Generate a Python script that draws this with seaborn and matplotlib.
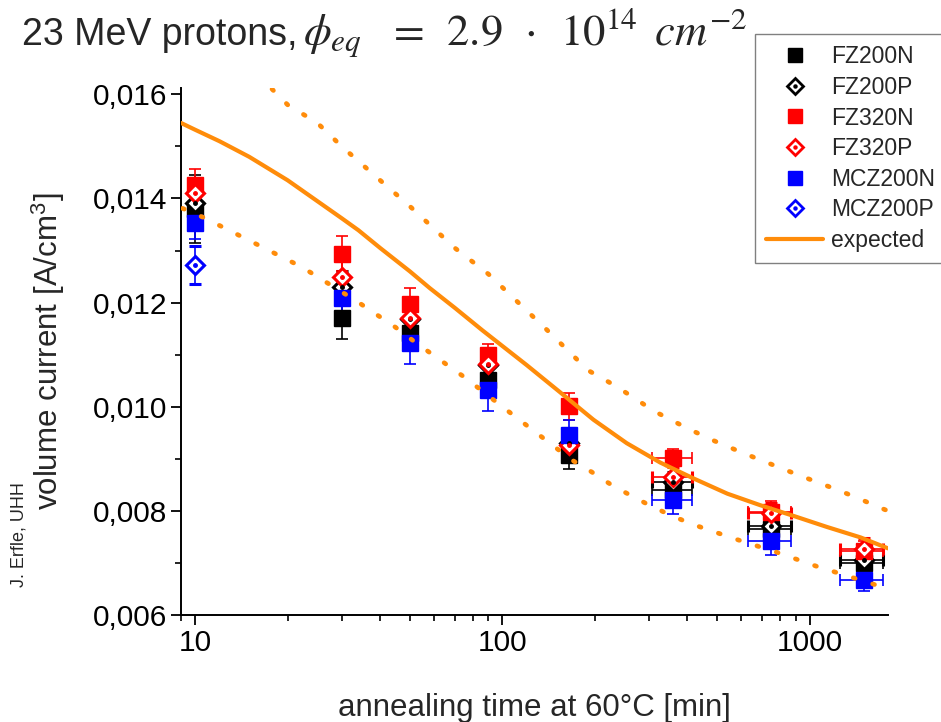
import matplotlib
matplotlib.use("Agg")
import matplotlib.pyplot as plt
import seaborn as sns
from matplotlib.lines import Line2D
from matplotlib.ticker import FuncFormatter, MultipleLocator, LogLocator, NullFormatter

# annealing times [min] and their horizontal uncertainty
times = [10, 30, 50, 90, 165, 360, 750, 1500]
time_err = [0, 0, 0, 0, 0, 54, 120, 240]

# volume current [A/cm^3]
fz200n = [0.01380, 0.01171, 0.01141, 0.01052, 0.00907, 0.00840, 0.00766, 0.00700]
fz200n_err = [0.00066, 0.00040, 0.00030, 0.00030, 0.00027, 0.00020, 0.00020, 0.00020]
fz200p = [0.01392, 0.01230, 0.01168, 0.01080, 0.00930, 0.00855, 0.00770, 0.00706]
fz200p_err = [0.00040, 0.00030, 0.00030, 0.00030, 0.00030, 0.00020, 0.00020, 0.00020]
fz320n = [0.01426, 0.01294, 0.01197, 0.01099, 0.01001, 0.00902, 0.00798, 0.00722]
fz320n_err = [0.00030, 0.00033, 0.00031, 0.00021, 0.00026, 0.00017, 0.00020, 0.00020]
fz320p = [0.01410, 0.01249, 0.01171, 0.01083, 0.00926, 0.00865, 0.00795, 0.00727]
fz320p_err = [0.00030, 0.00030, 0.00030, 0.00030, 0.00030, 0.00020, 0.00020, 0.00020]
mcz200n = [0.01352, 0.01208, 0.01123, 0.01032, 0.00945, 0.00820, 0.00743, 0.00667]
mcz200n_err = [0.00030, 0.00042, 0.00040, 0.00040, 0.00030, 0.00026, 0.00028, 0.00020]
mcz200p_t = [10]
mcz200p = [0.01272]
mcz200p_err = [0.00036]

# expected curve and its +-10% band
exp_t = [9, 10, 12, 15, 20, 30, 34, 40, 50, 58, 70, 86, 120, 154, 198, 254, 326, 420,
         540, 690, 890, 1140, 1465, 1800]
expected = [0.01545, 0.01532, 0.01510, 0.01480, 0.01435, 0.01362, 0.01339, 0.01305,
            0.01260, 0.01228, 0.01190, 0.01147, 0.01080, 0.01028, 0.00975, 0.00930,
            0.00893, 0.00862, 0.00833, 0.00811, 0.00790, 0.00769, 0.00749, 0.00728]
upper_t = [17.8, 20, 25, 30, 40, 50, 70, 90, 140, 190, 232, 270, 311, 361, 419, 487,
           570, 664, 777, 909, 1060, 1237, 1443, 1680, 1800]
upper = [0.01610, 0.01580, 0.01545, 0.01500, 0.01435, 0.01385, 0.01305, 0.01255,
         0.01147, 0.01070, 0.01041, 0.01016, 0.00992, 0.00972, 0.00953, 0.00935,
         0.00918, 0.00902, 0.00886, 0.00870, 0.00855, 0.00840, 0.00824, 0.00807, 0.00800]
lower_t = [9.1, 10.6, 12.3, 22.3, 33.9, 44.8, 52, 76, 99.5, 168, 195, 225, 261, 303,
           352, 412, 483, 566, 777, 1060, 1233, 1720]
lower = [0.01381, 0.01364, 0.01345, 0.01268, 0.01201, 0.01153, 0.01124, 0.01055,
         0.01001, 0.00898, 0.00875, 0.00851, 0.00830, 0.00810, 0.00792, 0.00775,
         0.00761, 0.00747, 0.00721, 0.00693, 0.00681, 0.00654]

ORANGE = "#ff8c0a"

sns.set_style("ticks")
plt.rcParams['font.family'] = ['Liberation Sans', 'DejaVu Sans']
plt.rcParams['mathtext.fontset'] = 'stix'

fig = plt.figure(figsize=(9.41, 7.22), dpi=100)
ax = fig.add_axes([0.1924, 0.1482, 0.7513, 0.7298])

series = [
    ("FZ200N", times, fz200n, fz200n_err, "black", "s"),
    ("FZ200P", times, fz200p, fz200p_err, "black", "D"),
    ("FZ320N", times, fz320n, fz320n_err, "red", "s"),
    ("FZ320P", times, fz320p, fz320p_err, "red", "D"),
    ("MCZ200N", times, mcz200n, mcz200n_err, "blue", "s"),
    ("MCZ200P", mcz200p_t, mcz200p, mcz200p_err, "blue", "D"),
]

handles = []
labels = []
for name, t, v, e, col, mk in series:
    xe = time_err[:len(t)]
    if mk == "s":
        ax.errorbar(t, v, yerr=e, xerr=xe, fmt="s", color=col, ms=11, mec=col,
                    ecolor=col, elinewidth=1.2, capsize=4.5, capthick=1.2, zorder=2)
        h = Line2D([], [], ls="none", marker="s", ms=9.5, color=col)
    else:
        ax.errorbar(t, v, yerr=e, xerr=xe, fmt="D", color=col, ms=9.5, mfc="white",
                    mec=col, mew=2.2, ecolor=col, elinewidth=1.2, capsize=4.5,
                    capthick=1.2, zorder=2)
        ax.plot(t, v, ls="none", marker="o", ms=2.5, color=col, zorder=3)
        h = (Line2D([], [], ls="none", marker="D", ms=8.5, mfc="white", mec=col, mew=2),
             Line2D([], [], ls="none", marker="o", ms=2.2, color=col))
    handles.append(h)
    labels.append(name)

sns.lineplot(x=exp_t, y=expected, ax=ax, color=ORANGE, lw=3, zorder=4,
             legend=False, sort=True)
for bt, bv in ((upper_t, upper), (lower_t, lower)):
    ax.plot(bt, bv, color=ORANGE, lw=3.4, zorder=4, linestyle=(0, (0.4, 3.9)),
            dash_capstyle="round")
handles.append(Line2D([], [], color=ORANGE, lw=3))
labels.append("expected")

ax.set_xscale("log")
ax.set_xlim(9, 1800)
ax.set_ylim(0.006, 0.01612)
ax.xaxis.set_major_locator(LogLocator(base=10, numticks=10))
ax.xaxis.set_minor_locator(LogLocator(base=10, subs=range(2, 10), numticks=20))
ax.xaxis.set_major_formatter(FuncFormatter(lambda v, p: f"{v:g}"))
ax.xaxis.set_minor_formatter(NullFormatter())
ax.yaxis.set_major_locator(MultipleLocator(0.002))
ax.yaxis.set_minor_locator(MultipleLocator(0.001))
ax.yaxis.set_major_formatter(FuncFormatter(lambda v, p: f"{v:.3f}".replace(".", ",")))

sns.despine(ax=ax)
for s in ("left", "bottom"):
    ax.spines[s].set_linewidth(1.4)
    ax.spines[s].set_color("black")
ax.tick_params(which="major", direction="out", length=7, width=1.3, labelsize=21.5,
               colors="black", pad=3)
ax.tick_params(which="minor", direction="out", length=4.5, width=1.2, colors="black")

ax.set_xlabel("annealing time at 60°C [min]", fontsize=22.5)
ax.xaxis.set_label_coords(0.5, -0.148)
ax.xaxis.label.set_va("top")
ax.set_ylabel("volume current [A/cm$^\\mathregular{3}$]", fontsize=22.5)
ax.yaxis.set_label_coords(-0.162, 0.5)

fig.text(0.020, 0.26, "J. Erfle, UHH", rotation=90, fontsize=13, ha="center",
         va="center")

fig.text(0.0234, 0.9377, "23 MeV protons,", fontsize=27, va="baseline", ha="left")
fig.text(0.322, 0.9377,
         "$\\phi_{eq}\\;\\enspace=\\enspace2.9\\enspace\\cdot\\enspace10^{14}\\enspace cm^{-2}$",
         fontsize=32, va="baseline", ha="left")

leg = fig.legend(handles, labels, loc="upper left", bbox_to_anchor=(0.802, 0.953),
                 bbox_transform=fig.transFigure, fontsize=16.5, frameon=True,
                 fancybox=False, framealpha=1, edgecolor="#808080", borderaxespad=0,
                 handlelength=2.5, handletextpad=0.35, labelspacing=0.33,
                 borderpad=0.5)
leg.get_frame().set_linewidth(1.0)

fig.savefig("out.png", dpi=100)
